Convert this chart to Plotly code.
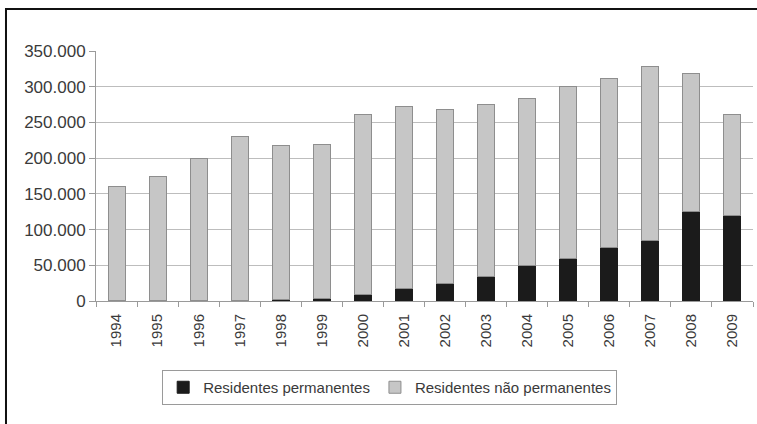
import plotly.graph_objects as go

# Residentes permanentes / não permanentes, 1994-2009
years = [str(y) for y in range(1994, 2010)]
totals = [160000, 175000, 200000, 230500, 218000, 219500, 260500, 272000,
          267500, 275000, 283000, 300500, 312000, 329000, 318500, 261500]
permanentes = [200, 200, 300, 1000, 1500, 3600, 8500, 17500,
               24500, 34500, 49500, 59500, 74500, 84500, 125500, 119500]
nao_permanentes = [t - p for t, p in zip(totals, permanentes)]

y_ticks = [0, 50000, 100000, 150000, 200000, 250000, 300000, 350000]

fig = go.Figure()
fig.add_trace(go.Bar(
    x=years, y=permanentes, name="Residentes permanentes",
    marker=dict(color="#1b1b1b", line=dict(color="#1b1b1b", width=1)),
))
fig.add_trace(go.Bar(
    x=years, y=nao_permanentes, name="Residentes não permanentes",
    marker=dict(color="#c6c6c6", line=dict(color="#8e8e8e", width=1)),
))

fig.update_layout(
    width=757, height=424,
    barmode="stack", bargap=0.585,
    separators=",.",
    paper_bgcolor="white", plot_bgcolor="white",
    margin=dict(l=96, r=4, t=51, b=123, autoexpand=False),
    font=dict(family="Liberation Sans, Arial, sans-serif", color="#3a3a3a", size=15),
    xaxis=dict(
        type="category", tickangle=-90, tickfont=dict(size=15),
        showline=True, linecolor="#9a9a9a", linewidth=1,
        ticks="outside", tickson="boundaries", ticklen=5, tickcolor="#9a9a9a",
        ticklabelstandoff=6, showgrid=False,
    ),
    yaxis=dict(
        range=[0, 350000], tickvals=y_ticks, tickformat=",d",
        showline=True, linecolor="#9a9a9a", linewidth=1,
        ticks="outside", ticklen=6, tickcolor="#9a9a9a",
        showgrid=True, gridcolor="#bdbdbd", gridwidth=1,
        zeroline=False, tickfont=dict(size=17),
    ),
    legend=dict(
        orientation="h", x=0.447, xanchor="center", y=-0.276, yanchor="top",
        bordercolor="#9a9a9a", borderwidth=1, font=dict(size=15),
        traceorder="normal", itemwidth=30,
    ),
    shapes=[dict(
        type="rect", xref="paper", yref="paper",
        x0=-0.137, x1=1.02, y0=-0.6, y1=1.168,
        line=dict(color="#111111", width=2), layer="below",
    )],
)

fig.write_html("out.html", config={"displayModeBar": False},
               post_script="document.body.style.margin='0';")
